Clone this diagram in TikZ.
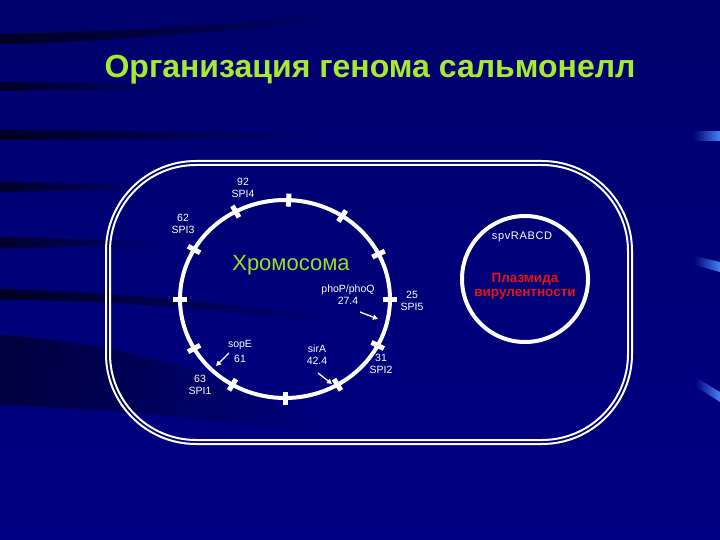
\documentclass[tikz,border=0pt]{standalone}
\usepackage{fontspec}
\setmainfont{Liberation Sans}
\usetikzlibrary{arrows.meta,fadings}
\definecolor{bgtop}{RGB}{0,0,108}
\definecolor{bgbot}{RGB}{0,0,132}
\definecolor{titlegreen}{RGB}{165,235,50}
\definecolor{chromgreen}{RGB}{150,225,40}
\definecolor{plasred}{RGB}{230,20,20}
\definecolor{barblue}{RGB}{70,130,245}
\tikzfading[name=fadeout, left color=transparent!0, right color=transparent!100]
\tikzfading[name=fadein, left color=transparent!100, right color=transparent!0]
\tikzset{
  lbl/.style={text=white, align=center, font=\fontsize{10.5}{12}\selectfont, inner sep=0pt},
  streak/.style={fill=black, path fading=fadeout},
  cellwall/.style={draw=white, line width=2pt},
  ring/.style={draw=white, line width=4pt},
  tickbar/.style={draw=white, line width=5pt},
  ptr/.style={draw=white, line width=1.3pt, -{Triangle[length=5pt,width=5pt]}},
  bar/.style={fill=barblue, path fading=fadein},
}
\begin{document}
\begin{tikzpicture}[x=1pt,y=-1pt]
\useasboundingbox (0,0) rectangle (720,540);
\shade[top color=bgtop,bottom color=bgbot] (0,0) rectangle (720,540);
% background streaks
\fill[streak, opacity=.7] (0,34) .. controls (120,32) and (230,24) .. (340,14) -- (340,20) .. controls (230,30) and (120,42) .. (0,44) -- cycle;
\fill[streak, opacity=.65] (0,82) -- (170,84) -- (170,89) -- (0,91) -- cycle;
\fill[streak, opacity=.7] (0,130) -- (320,133) -- (320,138) -- (0,140) -- cycle;
\fill[streak, opacity=.65] (0,182) -- (150,185) -- (150,190) -- (0,192) -- cycle;
\fill[streak, opacity=.65] (0,237) -- (160,241) -- (160,246) -- (0,248) -- cycle;
\fill[streak, opacity=.7] (0,289) .. controls (120,292) and (240,305) .. (340,318) -- (340,324) .. controls (240,312) and (120,300) .. (0,300) -- cycle;
\fill[streak, opacity=.5] (0,335) .. controls (150,345) and (250,385) .. (330,430) -- (330,436) .. controls (240,420) and (120,410) .. (0,405) -- cycle;
% right-hand bars
\fill[bar] (693,131) rectangle (720,141);
\fill[bar] (694,256) -- (720,262) -- (720,272) -- (694,265) -- cycle;
\fill[bar] (695,377) -- (720,392) -- (720,402) -- (695,386) -- cycle;
% cell wall (double line)
\draw[cellwall, rounded corners=90pt] (106,161) rectangle (632,444);
\draw[cellwall, rounded corners=86pt] (110,165) rectangle (628,440);
% chromosome
\draw[ring] (285,299) ellipse [x radius=105, y radius=99];
\foreach \a in {88,57,27,0,-28,-60,-90,-120,-150,180,150,118}
  \draw[tickbar] ({285+98*cos(\a)},{299-92.5*sin(\a)}) -- ({285+112*cos(\a)},{299-105.5*sin(\a)});
% plasmid
\draw[ring] (525,279) circle [radius=63];
% texts
\node[font=\bfseries\fontsize{32}{36}\selectfont, text=titlegreen, anchor=base] (title) at (370,78) {Организация генома сальмонелл};
\node[text=chromgreen, font=\fontsize{22}{26}\selectfont, anchor=base] (chromlbl) at (291,270) {Хромосома};
\node[lbl] (spi4) at (243,188) {92\\SPI4};
\node[lbl] (spi3) at (183,224) {62\\SPI3};
\node[lbl] (pho) at (348,295) {phoP/phoQ\\27.4};
\node[lbl] (spi5) at (412,301) {25\\SPI5};
\node[lbl] (spi2) at (381,364) {31\\SPI2};
\node[lbl] (sir) at (317,355) {sirA\\42.4};
\node[lbl] (sop) at (240,351) {sopE\\[3pt]61};
\node[lbl] (spi1) at (200,385) {63\\SPI1};
\node[lbl, font=\fontsize{11}{13}\selectfont\addfontfeatures{LetterSpace=6}, anchor=base] (spv) at (522,239.5) {spvRABCD};
\node[text=plasred, font=\bfseries\fontsize{13.5}{14}\selectfont, align=center, inner sep=0pt] (plas) at (525,286) {Плазмида\\вирулентности};
% pointers
\coordinate (phoS) at (360,312); \coordinate (phoE) at (378,319);
\coordinate (sirS) at (318,373); \coordinate (sirE) at (332,384);
\coordinate (sopS) at (229,353); \coordinate (sopE) at (216,366);
\draw[ptr] (phoS) -- (phoE);
\draw[ptr] (sirS) -- (sirE);
\draw[ptr] (sopS) -- (sopE);
\end{tikzpicture}
\end{document}
